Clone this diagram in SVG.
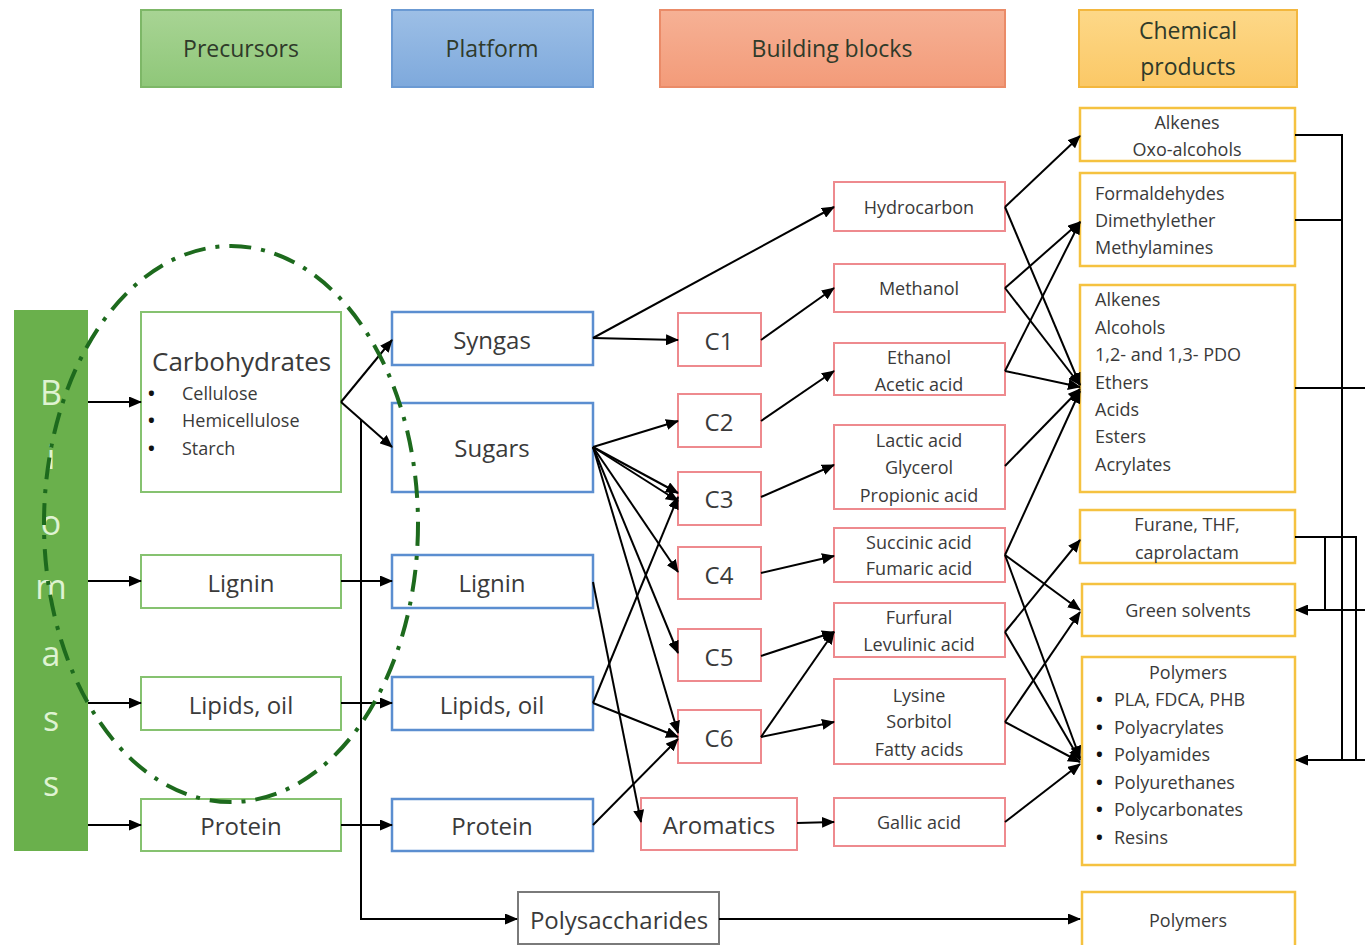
<svg xmlns="http://www.w3.org/2000/svg" width="1365" height="945" viewBox="0 0 1365 945">
<defs>
<marker id="ah" markerUnits="userSpaceOnUse" markerWidth="13" markerHeight="11" refX="12" refY="5.5" orient="auto">
<path d="M0,0 L13,5.5 L0,11 z" fill="#000"/>
</marker>
<linearGradient id="gG" x1="0" y1="0" x2="0" y2="1"><stop offset="0" stop-color="#a8d494"/><stop offset="1" stop-color="#8fc779"/></linearGradient>
<linearGradient id="gB" x1="0" y1="0" x2="0" y2="1"><stop offset="0" stop-color="#9dbfe6"/><stop offset="1" stop-color="#7ea9dc"/></linearGradient>
<linearGradient id="gR" x1="0" y1="0" x2="0" y2="1"><stop offset="0" stop-color="#f6b195"/><stop offset="1" stop-color="#f39b79"/></linearGradient>
<linearGradient id="gY" x1="0" y1="0" x2="0" y2="1"><stop offset="0" stop-color="#fdd888"/><stop offset="1" stop-color="#fbc866"/></linearGradient>
</defs>
<style>
text{font-family:"Open Sans","Liberation Sans",sans-serif;fill:#3a3a3a;dominant-baseline:central}
.c{text-anchor:middle}
.hd{font-size:23px;fill:#2f3a2a}
.pre{fill:#fff;stroke:#86c270;stroke-width:2}
.pla{fill:#fff;stroke:#5b8ed0;stroke-width:2.5}
.bb{fill:#fff;stroke:#ee8a8e;stroke-width:2}
.cp{fill:#fff;stroke:#f5c240;stroke-width:2.5}
.big{font-size:24px}
.carb{font-size:26px}
.mid{font-size:18px}
.sm{font-size:18px}
.bul{font-size:18px;font-weight:bold;fill:#111}
.bio{font-size:34px;fill:#dff3d2;text-anchor:middle}
.con line,.con polyline{stroke:#000;stroke-width:2;fill:none}
.arr{marker-end:url(#ah)}
</style>

<!-- header -->
<g id="h-precursors"><rect x="141" y="10" width="200" height="77" fill="url(#gG)" stroke="#7db767" stroke-width="2"/><text class="c hd" x="241" y="48">Precursors</text></g>
<g id="h-platform"><rect x="392" y="10" width="201" height="77" fill="url(#gB)" stroke="#6b9ad3" stroke-width="2"/><text class="c hd" x="492" y="48">Platform</text></g>
<g id="h-building"><rect x="660" y="10" width="345" height="77" fill="url(#gR)" stroke="#ea8b68" stroke-width="2"/><text class="c hd" x="832" y="48">Building blocks</text></g>
<g id="h-chemical"><rect x="1079" y="10" width="218" height="77" fill="url(#gY)" stroke="#f3b73e" stroke-width="2"/><text class="c hd" x="1188" y="30">Chemical</text><text class="c hd" x="1188" y="66">products</text></g>

<!-- biomass -->
<g id="biomass"><rect x="14" y="310" width="74" height="541" fill="#6ab04c"/>
<text class="bio" x="51" y="392">B</text><text class="bio" x="51" y="456">i</text><text class="bio" x="51" y="522">o</text><text class="bio" x="51" y="586">m</text><text class="bio" x="51" y="653">a</text><text class="bio" x="51" y="718">s</text><text class="bio" x="51" y="783">s</text></g>

<!-- precursors -->
<g id="p-carb"><rect class="pre" x="141" y="312" width="200" height="180"/>
<text class="carb" x="152" y="361">Carbohydrates</text>
<text class="bul" x="148" y="393">•</text><text class="sm" x="182" y="393">Cellulose</text>
<text class="bul" x="148" y="420">•</text><text class="sm" x="182" y="420">Hemicellulose</text>
<text class="bul" x="148" y="448">•</text><text class="sm" x="182" y="448">Starch</text></g>
<g id="p-lignin"><rect class="pre" x="141" y="555" width="200" height="53"/><text class="c big" x="241" y="582">Lignin</text></g>
<g id="p-lipids"><rect class="pre" x="141" y="677" width="200" height="53"/><text class="c big" x="241" y="704">Lipids, oil</text></g>
<g id="p-protein"><rect class="pre" x="141" y="799" width="200" height="52"/><text class="c big" x="241" y="825">Protein</text></g>

<!-- platform -->
<g id="pl-syngas"><rect class="pla" x="392" y="312" width="201" height="53"/><text class="c big" x="492" y="339">Syngas</text></g>
<g id="pl-sugars"><rect class="pla" x="392" y="403" width="201" height="89"/><text class="c big" x="492" y="447">Sugars</text></g>
<g id="pl-lignin"><rect class="pla" x="392" y="555" width="201" height="53"/><text class="c big" x="492" y="582">Lignin</text></g>
<g id="pl-lipids"><rect class="pla" x="392" y="677" width="201" height="53"/><text class="c big" x="492" y="704">Lipids, oil</text></g>
<g id="pl-protein"><rect class="pla" x="392" y="799" width="201" height="52"/><text class="c big" x="492" y="825">Protein</text></g>

<!-- C nodes -->
<g id="c1"><rect class="bb" x="678" y="313" width="83" height="53"/><text class="c big" x="719" y="340">C1</text></g>
<g id="c2"><rect class="bb" x="678" y="394" width="83" height="53"/><text class="c big" x="719" y="421">C2</text></g>
<g id="c3"><rect class="bb" x="678" y="472" width="83" height="53"/><text class="c big" x="719" y="498">C3</text></g>
<g id="c4"><rect class="bb" x="678" y="547" width="83" height="52"/><text class="c big" x="719" y="574">C4</text></g>
<g id="c5"><rect class="bb" x="678" y="629" width="83" height="52"/><text class="c big" x="719" y="656">C5</text></g>
<g id="c6"><rect class="bb" x="678" y="710" width="83" height="53"/><text class="c big" x="719" y="737">C6</text></g>
<g id="aromatics"><rect class="bb" x="641" y="798" width="156" height="52"/><text class="c big" x="719" y="824">Aromatics</text></g>

<!-- building blocks -->
<g id="b-hydro"><rect class="bb" x="834" y="182" width="171" height="49"/><text class="c mid" x="919" y="207">Hydrocarbon</text></g>
<g id="b-meth"><rect class="bb" x="834" y="264" width="171" height="48"/><text class="c mid" x="919" y="288">Methanol</text></g>
<g id="b-eth"><rect class="bb" x="834" y="343" width="171" height="52"/><text class="c mid" x="919" y="357">Ethanol</text><text class="c mid" x="919" y="384">Acetic acid</text></g>
<g id="b-lactic"><rect class="bb" x="834" y="425" width="171" height="84"/><text class="c mid" x="919" y="440">Lactic acid</text><text class="c mid" x="919" y="467">Glycerol</text><text class="c mid" x="919" y="495">Propionic acid</text></g>
<g id="b-succ"><rect class="bb" x="834" y="528" width="171" height="54"/><text class="c mid" x="919" y="542">Succinic acid</text><text class="c mid" x="919" y="568">Fumaric acid</text></g>
<g id="b-furf"><rect class="bb" x="834" y="603" width="171" height="54"/><text class="c mid" x="919" y="617">Furfural</text><text class="c mid" x="919" y="644">Levulinic acid</text></g>
<g id="b-lys"><rect class="bb" x="834" y="679" width="171" height="85"/><text class="c mid" x="919" y="695">Lysine</text><text class="c mid" x="919" y="721">Sorbitol</text><text class="c mid" x="919" y="749">Fatty acids</text></g>
<g id="b-gallic"><rect class="bb" x="834" y="798" width="171" height="48"/><text class="c mid" x="919" y="822">Gallic acid</text></g>

<!-- chemical products -->
<g id="cp-alk"><rect class="cp" x="1080" y="108" width="215" height="53"/><text class="c mid" x="1187" y="122">Alkenes</text><text class="c mid" x="1187" y="149">Oxo-alcohols</text></g>
<g id="cp-form"><rect class="cp" x="1080" y="173" width="215" height="93"/><text class="mid" x="1095" y="193">Formaldehydes</text><text class="mid" x="1095" y="220">Dimethylether</text><text class="mid" x="1095" y="247">Methylamines</text></g>
<g id="cp-list"><rect class="cp" x="1080" y="285" width="215" height="207"/>
<text class="mid" x="1095" y="299">Alkenes</text><text class="mid" x="1095" y="327">Alcohols</text><text class="mid" x="1095" y="354">1,2- and 1,3- PDO</text><text class="mid" x="1095" y="382">Ethers</text><text class="mid" x="1095" y="409">Acids</text><text class="mid" x="1095" y="436">Esters</text><text class="mid" x="1095" y="464">Acrylates</text></g>
<g id="cp-furane"><rect class="cp" x="1080" y="510" width="215" height="53"/><text class="c mid" x="1187" y="524">Furane, THF,</text><text class="c mid" x="1187" y="552">caprolactam</text></g>
<g id="cp-green"><rect class="cp" x="1082" y="584" width="213" height="52"/><text class="c mid" x="1188" y="610">Green solvents</text></g>
<g id="cp-poly"><rect class="cp" x="1082" y="657" width="213" height="208"/>
<text class="c mid" x="1188" y="672">Polymers</text>
<text class="bul" x="1096" y="699">•</text><text class="mid" x="1114" y="699">PLA, FDCA, PHB</text>
<text class="bul" x="1096" y="727">•</text><text class="mid" x="1114" y="727">Polyacrylates</text>
<text class="bul" x="1096" y="754">•</text><text class="mid" x="1114" y="754">Polyamides</text>
<text class="bul" x="1096" y="782">•</text><text class="mid" x="1114" y="782">Polyurethanes</text>
<text class="bul" x="1096" y="809">•</text><text class="mid" x="1114" y="809">Polycarbonates</text>
<text class="bul" x="1096" y="837">•</text><text class="mid" x="1114" y="837">Resins</text></g>
<g id="cp-polymers2"><rect class="cp" x="1082" y="892" width="213" height="60"/><text class="c mid" x="1188" y="920">Polymers</text></g>

<g id="polysacch"><rect x="518" y="892" width="201" height="52" fill="#fff" stroke="#7a7a7a" stroke-width="2"/><text class="c big" x="619" y="919">Polysaccharides</text></g>

<!-- connectors -->
<g id="connectors" class="con">
<line class="arr" x1="88" y1="402" x2="141" y2="402"/>
<line class="arr" x1="88" y1="581" x2="141" y2="581"/>
<line class="arr" x1="88" y1="703" x2="141" y2="703"/>
<line class="arr" x1="88" y1="825" x2="141" y2="825"/>
<line class="arr" x1="341" y1="402" x2="392" y2="340"/>
<line class="arr" x1="341" y1="402" x2="392" y2="447"/>
<line class="arr" x1="341" y1="581" x2="392" y2="581"/>
<line class="arr" x1="341" y1="703" x2="392" y2="703"/>
<line class="arr" x1="341" y1="825" x2="392" y2="825"/>
<polyline class="arr" points="361,420 361,919 517,919"/>
<line class="arr" x1="719" y1="919" x2="1080" y2="919"/>

<line class="arr" x1="593" y1="338" x2="834" y2="207"/>
<line class="arr" x1="593" y1="338" x2="678" y2="340"/>
<line class="arr" x1="593" y1="447" x2="678" y2="421"/>
<line class="arr" x1="593" y1="447" x2="678" y2="493"/>
<line class="arr" x1="593" y1="447" x2="678" y2="501"/>
<line class="arr" x1="593" y1="447" x2="678" y2="572"/>
<line class="arr" x1="593" y1="447" x2="678" y2="653"/>
<line class="arr" x1="593" y1="447" x2="678" y2="733"/>
<line class="arr" x1="593" y1="582" x2="641" y2="822"/>
<line class="arr" x1="593" y1="703" x2="678" y2="497"/>
<line class="arr" x1="593" y1="703" x2="678" y2="737"/>
<line class="arr" x1="593" y1="825" x2="678" y2="739"/>

<line class="arr" x1="761" y1="340" x2="834" y2="288"/>
<line class="arr" x1="761" y1="421" x2="834" y2="371"/>
<line class="arr" x1="761" y1="497" x2="834" y2="465"/>
<line class="arr" x1="761" y1="573" x2="834" y2="556"/>
<line class="arr" x1="761" y1="656" x2="834" y2="632"/>
<line class="arr" x1="761" y1="737" x2="834" y2="632"/>
<line class="arr" x1="761" y1="737" x2="834" y2="722"/>
<line class="arr" x1="797" y1="823" x2="834" y2="822"/>

<line class="arr" x1="1005" y1="207" x2="1080" y2="136"/>
<line class="arr" x1="1005" y1="207" x2="1080" y2="385"/>
<line class="arr" x1="1005" y1="288" x2="1080" y2="222"/>
<line class="arr" x1="1005" y1="288" x2="1080" y2="385"/>
<line class="arr" x1="1005" y1="371" x2="1080" y2="222"/>
<line class="arr" x1="1005" y1="371" x2="1080" y2="387"/>
<line class="arr" x1="1005" y1="466" x2="1080" y2="389"/>
<line class="arr" x1="1005" y1="555" x2="1080" y2="391"/>
<line class="arr" x1="1005" y1="555" x2="1080" y2="610"/>
<line class="arr" x1="1005" y1="555" x2="1080" y2="758"/>
<line class="arr" x1="1005" y1="632" x2="1080" y2="540"/>
<line class="arr" x1="1005" y1="632" x2="1080" y2="760"/>
<line class="arr" x1="1005" y1="722" x2="1080" y2="612"/>
<line class="arr" x1="1005" y1="722" x2="1080" y2="762"/>
<line class="arr" x1="1005" y1="822" x2="1080" y2="764"/>

<polyline points="1295,135 1342,135 1342,760"/>
<line x1="1295" y1="220" x2="1342" y2="220"/>
<line x1="1295" y1="388" x2="1365" y2="388"/>
<polyline points="1295,537 1356,537 1356,760"/>
<line x1="1325" y1="537" x2="1325" y2="610"/>
<line class="arr" x1="1365" y1="610" x2="1296" y2="610"/>
<line class="arr" x1="1365" y1="760" x2="1296" y2="760"/>
</g>

<ellipse id="highlight" cx="231" cy="524" rx="187" ry="278" fill="none" stroke="#1d6a1d" stroke-width="4" stroke-dasharray="22 10 4 10"/>
</svg>
